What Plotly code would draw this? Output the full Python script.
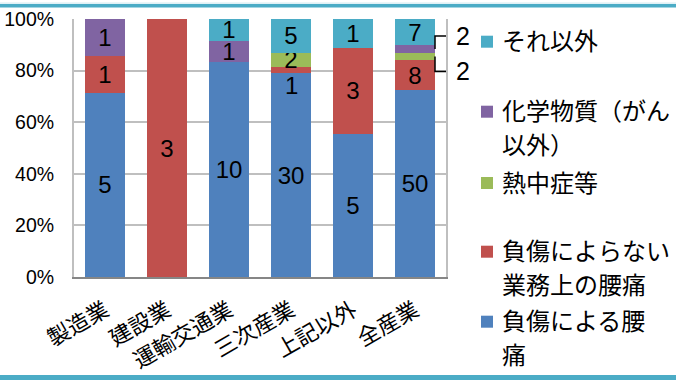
import plotly.graph_objects as go

# ---------------- data ----------------
categories = ["製造業", "建設業", "運輸交通業", "三次産業", "上記以外", "全産業"]
injury_back = [5, 0, 10, 30, 5, 50]          # 負傷による腰痛
noninjury_back = [1, 3, 0, 1, 3, 8]          # 負傷によらない業務上の腰痛
heatstroke = [0, 0, 0, 2, 0, 2]              # 熱中症等
chemical = [1, 0, 1, 0, 0, 2]                # 化学物質（がん以外）
other = [0, 0, 1, 5, 1, 7]                   # それ以外

series_names = ["負傷による腰痛", "負傷によらない業務上の腰痛", "熱中症等", "化学物質（がん以外）", "それ以外"]
legend_lines = [["負傷による腰", "痛"], ["負傷によらない", "業務上の腰痛"], ["熱中症等"],
                ["化学物質（がん", "以外）"], ["それ以外"]]
y_ticks = [0, 20, 40, 60, 80, 100]
y_ticktext = ["0%", "20%", "40%", "60%", "80%", "100%"]

series = [injury_back, noninjury_back, heatstroke, chemical, other]
colors = ["#4F81BD", "#C0504D", "#9BBB59", "#8064A2", "#4BACC6"]

FONT = "Liberation Sans, Arial, Noto Sans CJK JP, sans-serif"
W, H = 676, 381
L, R, T, B = 74, 446, 19, 277  # plot area in px
BARGAP = 0.355

# labels handled outside the bars (index of series, index of category) -> placed above?
outside = {(2, 5): False, (3, 5): True}
shifted = {(1, 3): -16}

totals = [sum(s[i] for s in series) for i in range(len(categories))]

fig = go.Figure()
for si, (vals, name, col) in enumerate(zip(series, series_names, colors)):
    texts = []
    for ci, v in enumerate(vals):
        if v == 0 or (si, ci) in outside or (si, ci) in shifted:
            texts.append("")
        else:
            texts.append(str(v))
    fig.add_trace(go.Bar(
        x=categories, y=vals, name=name, marker=dict(color=col, line=dict(width=0)),
        text=texts, textposition="inside", insidetextanchor="middle", textangle=0,
        textfont=dict(family=FONT, size=24, color="black"),
        showlegend=False, hoverinfo="skip",
    ))

fig.update_layout(barmode="stack", barnorm="percent", bargap=BARGAP,
                  uniformtext=dict(minsize=24, mode="show"))


def seg_bounds(si, ci):
    lo = sum(series[k][ci] for k in range(si)) / totals[ci] * 100
    hi = lo + series[si][ci] / totals[ci] * 100
    return lo, hi


def px2x(px):
    return (px - L) / (R - L)


def px2y(py):
    return (B - py) / (B - T)


def cat2paper(c):
    return (c + 0.5) / len(categories)


annotations = []
shapes = []
for (si, ci), dy in shifted.items():
    lo, hi = seg_bounds(si, ci)
    annotations.append(dict(x=ci, y=(lo + hi) / 2, xref="x", yref="y", text=str(series[si][ci]),
                            showarrow=False, yshift=dy,
                            font=dict(family=FONT, size=24, color="black")))

# outside labels with leader lines
px_per_pct = (B - T) / 100.0
px_per_cat = (R - L) / len(categories)
half_bar = (1 - BARGAP) / 2
for (si, ci), above in outside.items():
    lo, hi = seg_bounds(si, ci)
    mid = (lo + hi) / 2
    x0 = ci + half_bar
    label_y = mid + (13 / px_per_pct if above else -15 / px_per_pct)
    x1 = ci + half_bar + 13 / px_per_cat
    shapes.append(dict(type="path", xref="x", yref="y",
                       path=f"M {x0},{mid} L {x0},{label_y} L {x1},{label_y}",
                       line=dict(color="black", width=1.5)))
    annotations.append(dict(x=cat2paper(x1 + 6 / px_per_cat), y=label_y / 100.0,
                            xref="paper", yref="paper", xanchor="left", yanchor="middle",
                            text=str(series[si][ci]), showarrow=False,
                            font=dict(family=FONT, size=25, color="black")))

# legend drawn manually
legend_y = [321.7, 251.7, 183, 111.7, 41.7]
line_gap = 34
for lines, ly, col in zip(legend_lines, legend_y, colors):
    shapes.append(dict(type="rect", xref="paper", yref="paper",
                       x0=px2x(481), x1=px2x(493), y0=px2y(ly + 6), y1=px2y(ly - 6),
                       fillcolor=col, line=dict(width=0)))
    for k, t in enumerate(lines):
        annotations.append(dict(x=px2x(500), y=px2y(ly + k * line_gap), xref="paper", yref="paper",
                                xanchor="left", yanchor="middle", text=t, showarrow=False,
                                font=dict(family=FONT, size=24, color="black")))

# top and bottom accent bars
shapes.append(dict(type="rect", xref="paper", yref="paper", x0=px2x(0), x1=px2x(W),
                   y0=px2y(7.5), y1=px2y(4), fillcolor="#4BACC6", line=dict(width=0), layer="above"))
shapes.append(dict(type="rect", xref="paper", yref="paper", x0=px2x(0), x1=px2x(W),
                   y0=px2y(3.8), y1=px2y(2.6), fillcolor="#D6EDF3", line=dict(width=0), layer="above"))
shapes.append(dict(type="rect", xref="paper", yref="paper", x0=px2x(0), x1=px2x(W),
                   y0=px2y(380), y1=px2y(375), fillcolor="#4BACC6", line=dict(width=0), layer="above"))

fig.update_layout(
    width=W, height=H,
    margin=dict(l=L, r=W - R, t=T, b=H - B, pad=0, autoexpand=False),
    paper_bgcolor="white", plot_bgcolor="white",
    font=dict(family=FONT, color="black"),
    annotations=annotations, shapes=shapes,
    xaxis=dict(type="category", tickangle=-30, tickfont=dict(family=FONT, size=22, color="black"),
               showline=True, linecolor="#868686", linewidth=2, ticks="", showgrid=False,
               ticklabelstandoff=10,
               range=[-0.5, len(categories) - 0.5], fixedrange=True, automargin=False),
    yaxis=dict(range=[0, 100], tickvals=y_ticks, ticktext=y_ticktext,
               tickfont=dict(family=FONT, size=19.5, color="black"),
               showgrid=True, gridcolor="#BFBFBF", gridwidth=1.5, zeroline=False,
               showline=True, linecolor="#BFBFBF", linewidth=2, mirror=True,
               ticks="", ticklabelstandoff=14, fixedrange=True, automargin=False),
)

fig.write_html("out.html")
